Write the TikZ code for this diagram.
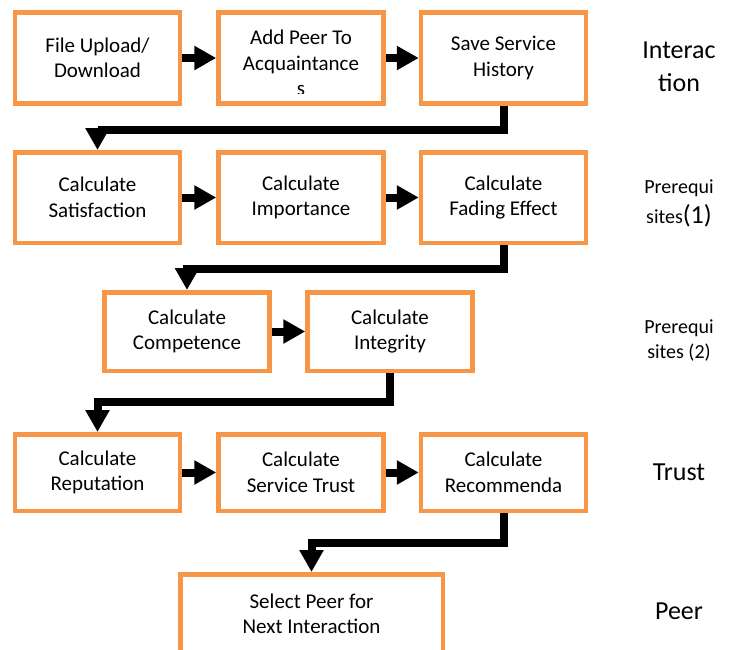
\documentclass[tikz,border=0pt]{standalone}
\usepackage{fontspec}
\setmainfont{Carlito}
\usetikzlibrary{arrows.meta}
\definecolor{boxorange}{RGB}{247,150,70}

\begin{document}
\begin{tikzpicture}[x=1pt, y=-1pt, every node/.style={font=\fontsize{21}{25.5}\selectfont},
  stepbox/.style={draw=boxorange, line width=4.5pt, fill=white, minimum width=165pt, minimum height=91pt, inner sep=0pt, align=center},
  flow/.style={line width=8pt, -{Triangle[width=23pt, length=22pt]}},
  side/.style={align=center, font=\fontsize{26}{33}\selectfont}]
  \useasboundingbox (0,0) rectangle (731,649);
  \clip (0,0) rectangle (731,649);
  \node[stepbox] (upload) at (97.5,58) {File Upload/\\Download};
  \node[stepbox] (addpeer) at (301,58) {};
  \node[stepbox] (history) at (503.5,58) {Save Service\\History};
  \begin{scope}
    \clip (220,14) rectangle (382,93);
    \node[align=center] (addpeertext) at (301,63) {Add Peer To\\Acquaintance\\s};
  \end{scope}
  \node[stepbox, minimum height=90.5pt] (satisf) at (97.5,197.5) {Calculate\\Satisfaction};
  \node[stepbox, minimum height=90.5pt] (import) at (301,197.5) {Calculate\\Importance};
  \node[stepbox, minimum height=90.5pt] (fading) at (503.5,197.5) {Calculate\\Fading Effect};
  \node[stepbox, minimum height=78.5pt] (compet) at (187,331.5) {Calculate\\Competence};
  \node[stepbox, minimum height=78.5pt] (integ) at (390,331.5) {Calculate\\Integrity};
  \node[stepbox, minimum height=76.5pt] (reput) at (97.5,472.5) {Calculate\\Reputation};
  \node[stepbox, minimum height=76.5pt] (strust) at (301,472.5) {Calculate\\Service Trust};
  \node[stepbox, minimum height=76.5pt] (recomm) at (503.5,472.5) {Calculate\\Recommenda};
  \node[stepbox, minimum width=262.5pt, minimum height=79.5pt] (select) at (311.5,614) {Select Peer for\\Next Interaction};
  \foreach \a/\b in {upload/addpeer, addpeer/history, satisf/import, import/fading, compet/integ, reput/strust, strust/recomm}
    \draw[flow] (\a) -- (\b);
  \draw[flow] (history.south) -- ++(0,24) -| (satisf.north);
  \draw[flow] (fading.south) -- ++(0,23.5) -| (compet.north);
  \draw[flow] (integ.south) -- ++(0,29) -| (reput.north);
  \draw[flow] (recomm.south) -- ++(0,30) -| (select.north);
  \node[side] (linteract) at (679,66.5) {Interac\\tion};
  \node[side, font=\fontsize{20}{30}\selectfont] (lprereq1) at (679,203) {Prerequi\\sites{\fontsize{26}{30}\selectfont(1)}};
  \node[side, font=\fontsize{20}{25}\selectfont] (lprereq2) at (679,340.5) {Prerequi\\sites (2)};
  \node[side] (ltrust) at (679,472) {Trust};
  \node[side] (lpeer) at (679,611) {Peer};
\end{tikzpicture}
\end{document}
